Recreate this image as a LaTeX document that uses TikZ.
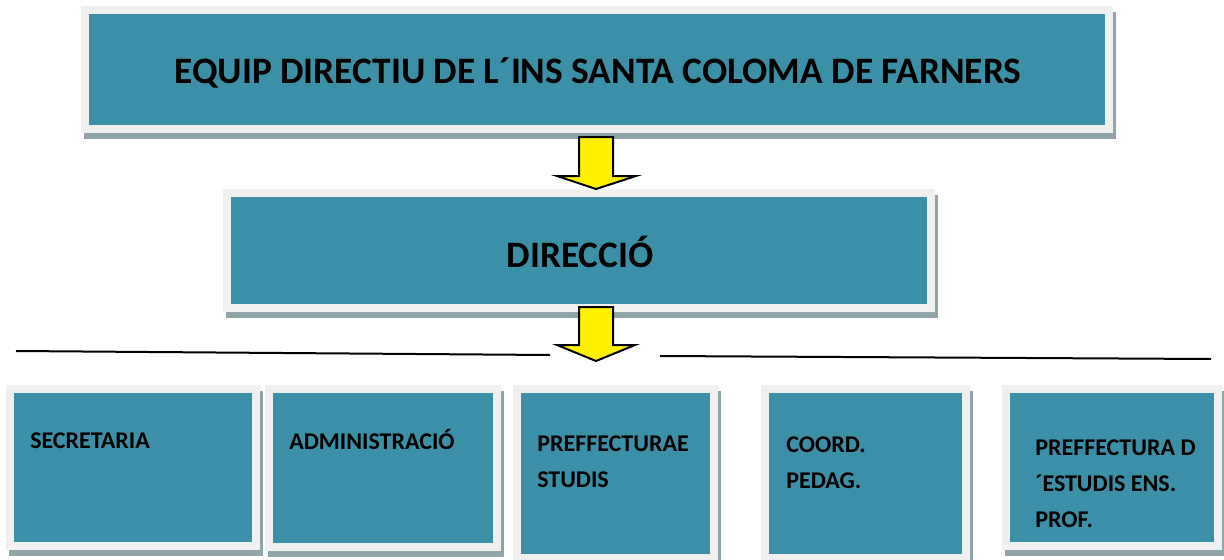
\documentclass[tikz,border=0pt]{standalone}
\usepackage{fontspec}
\setmainfont{Carlito}
\usetikzlibrary{fit,shadows}
\definecolor{boxteal}{RGB}{59,143,166}
\definecolor{boxframe}{RGB}{240,240,240}
\definecolor{boxshadow}{RGB}{143,165,168}
\begin{document}
\begin{tikzpicture}[x=0.75pt,y=-0.75pt,
	org box/.style={fill=boxframe,inner sep=0pt,outer sep=0pt,
		drop shadow={shadow xshift=2.25pt,shadow yshift=-4.5pt,fill=boxshadow,opacity=1},
		path picture={\fill[boxteal] ([shift={(6pt,-6pt)}]path picture bounding box.north west) rectangle ([shift={(-6pt,6pt)}]path picture bounding box.south east);}},
	big label/.style={anchor=base,inner sep=0pt,font=\fontsize{28}{34}\selectfont\bfseries},
	unit label/.style={anchor=north west,inner sep=0pt,align=left,font=\fontsize{18}{27}\selectfont\bfseries},
	down arrow/.style={draw=black,line width=1.5pt,fill=yellow,line join=miter},
	rule line/.style={line width=1.5pt}]

	\useasboundingbox (0,0) rectangle (1224,560);

	\node[org box,fit={(81,6) (1113,133)}] (equip) {};
	\node[org box,fit={(223,189) (935,312)}] (direccio) {};

	\node[org box,fit={(6,385) (260,550)}] (secr) {};
	\node[org box,fit={(265,385) (501,551)}] (admin) {};
	\node[org box,fit={(513,385) (718,562)}] (prefest) {};
	\node[org box,fit={(761,385) (970,562)}] (coord) {};
	\node[org box,fit={(1002,385) (1222,550)}] (prefens) {};

	\node[big label] (equiptxt) at ([shift={(1,14)}]equip.center) {EQUIP DIRECTIU DE L´INS SANTA COLOMA DE FARNERS};
	\node[big label] (direcciotxt) at ([shift={(1,17)}]direccio.center) {DIRECCIÓ};

	\node[unit label] (secrtxt) at ([shift={(24,38)}]secr.north west) {\strut SECRETARIA};
	\node[unit label] (admintxt) at ([shift={(24,39)}]admin.north west) {\strut ADMINISTRACIÓ};
	\node[unit label] (prefesttxt) at ([shift={(24,41)}]prefest.north west) {\strut PREFFECTURAE\\STUDIS};
	\node[unit label] (coordtxt) at ([shift={(25,42)}]coord.north west) {\strut COORD.\\PEDAG.};
	\node[unit label] (prefenstxt) at ([shift={(33,45)}]prefens.north west) {\strut PREFFECTURA D\\´ESTUDIS ENS.\\PROF.};

	\draw[down arrow] (579,137) -- (613,137) -- (613,176) -- (636,176) -- (596,189) -- (557,176) -- (579,176) -- cycle;
	\draw[down arrow] (579,307) -- (613,307) -- (613,345) -- (635,345) -- (596,361) -- (557,345) -- (579,345) -- cycle;

	\coordinate (leftA) at (16,351);
	\coordinate (leftB) at (550,355);
	\coordinate (rightA) at (660,356);
	\coordinate (rightB) at (1211,359);
	\draw[rule line] (leftA) -- (leftB);
	\draw[rule line] (rightA) -- (rightB);
\end{tikzpicture}
\end{document}
